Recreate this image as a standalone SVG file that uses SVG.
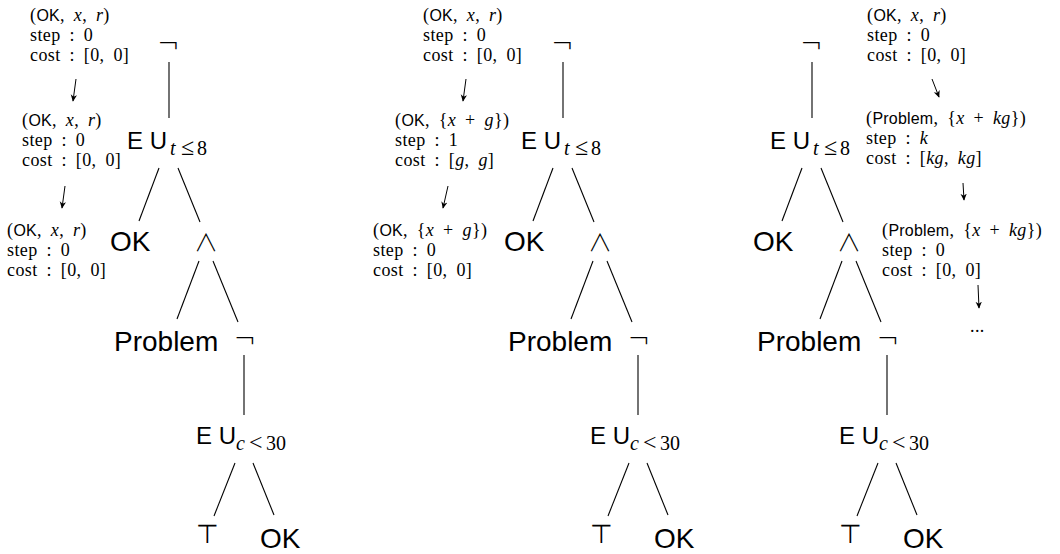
<svg xmlns="http://www.w3.org/2000/svg" width="1060" height="554" viewBox="0 0 1060 554">
<defs>
<marker id="ah" viewBox="0 0 10 10" refX="9" refY="5" markerWidth="7" markerHeight="7" markerUnits="userSpaceOnUse" orient="auto"><path d="M0,0.5 L10,5 L0,9.5 L3,5 Z" fill="#000"/></marker>
</defs>
<style>
text{fill:#000}
.sf{font-family:"Liberation Sans",Arial,sans-serif}
.big{font-size:28px}
.eu{font-size:24px}
.cm{font-family:"Liberation Serif","Times New Roman",serif;font-size:18px;word-spacing:4px;letter-spacing:0.4px}
.cm .sf{font-size:16px;letter-spacing:0.2px}
.sub{font-family:"Liberation Serif","Times New Roman",serif;font-size:20px}
.le{font-size:24px}
.it{font-style:italic}
.sym{font-family:"DejaVu Sans",sans-serif;font-weight:200}
.neg{font-size:27px}
.wedge{font-family:"Noto Sans CJK JP","DejaVu Sans",sans-serif;font-weight:300;font-size:24px}
.top{font-size:26px}
.edge{stroke:#000;stroke-width:1.1;fill:none}
.arr{stroke:#000;stroke-width:1;fill:none;marker-end:url(#ah)}
</style>

<!-- ===== Tree 1 ===== -->
<g id="tree1">
 <g id="t1-neg1"><text class="sym neg" x="168.5" y="53" text-anchor="middle">¬</text></g>
 <g id="t1-eu1"><text x="127" y="149"><tspan class="sf eu">E U</tspan><tspan class="sub it" x="170" y="155">t</tspan><tspan class="sub le" x="181">≤</tspan><tspan class="sub" x="197">8</tspan></text></g>
 <g id="t1-ok1"><text class="sf big" x="110" y="251">OK</text></g>
 <g id="t1-and"><text class="wedge" x="206" y="251" text-anchor="middle">∧</text></g>
 <g id="t1-problem"><text class="sf big" x="114" y="351">Problem</text></g>
 <g id="t1-neg2"><text class="sym neg" x="245" y="348" text-anchor="middle">¬</text></g>
 <g id="t1-eu2"><text x="196" y="444"><tspan class="sf eu">E U</tspan><tspan class="sub it" x="236" y="450">c</tspan><tspan class="sub le" x="249">&lt;</tspan><tspan class="sub" x="266">30</tspan></text></g>
 <g id="t1-top"><text class="sym top" x="207" y="543" text-anchor="middle">⊤</text></g>
 <g id="t1-ok2"><text class="sf big" x="260" y="548">OK</text></g>
</g>

<!-- ===== Tree 2 ===== -->
<g id="tree2" transform="translate(394,0)">
 <g id="t2-neg1"><text class="sym neg" x="168.5" y="53" text-anchor="middle">¬</text></g>
 <g id="t2-eu1"><text x="127" y="149"><tspan class="sf eu">E U</tspan><tspan class="sub it" x="170" y="155">t</tspan><tspan class="sub le" x="181">≤</tspan><tspan class="sub" x="197">8</tspan></text></g>
 <g id="t2-ok1"><text class="sf big" x="110" y="251">OK</text></g>
 <g id="t2-and"><text class="wedge" x="206" y="251" text-anchor="middle">∧</text></g>
 <g id="t2-problem"><text class="sf big" x="114" y="351">Problem</text></g>
 <g id="t2-neg2"><text class="sym neg" x="245" y="348" text-anchor="middle">¬</text></g>
 <g id="t2-eu2"><text x="196" y="444"><tspan class="sf eu">E U</tspan><tspan class="sub it" x="236" y="450">c</tspan><tspan class="sub le" x="249">&lt;</tspan><tspan class="sub" x="266">30</tspan></text></g>
 <g id="t2-top"><text class="sym top" x="207" y="543" text-anchor="middle">⊤</text></g>
 <g id="t2-ok2"><text class="sf big" x="260" y="548">OK</text></g>
</g>

<!-- ===== Tree 3 ===== -->
<g id="tree3" transform="translate(643,0)">
 <g id="t3-neg1"><text class="sym neg" x="168.5" y="53" text-anchor="middle">¬</text></g>
 <g id="t3-eu1"><text x="127" y="149"><tspan class="sf eu">E U</tspan><tspan class="sub it" x="170" y="155">t</tspan><tspan class="sub le" x="181">≤</tspan><tspan class="sub" x="197">8</tspan></text></g>
 <g id="t3-ok1"><text class="sf big" x="110" y="251">OK</text></g>
 <g id="t3-and"><text class="wedge" x="206" y="251" text-anchor="middle">∧</text></g>
 <g id="t3-problem"><text class="sf big" x="114" y="351">Problem</text></g>
 <g id="t3-neg2"><text class="sym neg" x="245" y="348" text-anchor="middle">¬</text></g>
 <g id="t3-eu2"><text x="196" y="444"><tspan class="sf eu">E U</tspan><tspan class="sub it" x="236" y="450">c</tspan><tspan class="sub le" x="249">&lt;</tspan><tspan class="sub" x="266">30</tspan></text></g>
 <g id="t3-top"><text class="sym top" x="207" y="543" text-anchor="middle">⊤</text></g>
 <g id="t3-ok2"><text class="sf big" x="260" y="548">OK</text></g>
</g>

<!-- ===== Annotations ===== -->
<g id="a1-1">
 <text class="cm" x="30" y="21">(<tspan class="sf">OK</tspan>, <tspan class="it">x</tspan>, <tspan class="it">r</tspan>)</text>
 <text class="cm" x="30" y="41">step : 0</text>
 <text class="cm" x="30" y="61">cost : [0, 0]</text>
</g>
<g id="a1-2">
 <text class="cm" x="22" y="126">(<tspan class="sf">OK</tspan>, <tspan class="it">x</tspan>, <tspan class="it">r</tspan>)</text>
 <text class="cm" x="22" y="146">step : 0</text>
 <text class="cm" x="22" y="166">cost : [0, 0]</text>
</g>
<g id="a1-3">
 <text class="cm" x="7" y="236">(<tspan class="sf">OK</tspan>, <tspan class="it">x</tspan>, <tspan class="it">r</tspan>)</text>
 <text class="cm" x="7" y="256">step : 0</text>
 <text class="cm" x="7" y="276">cost : [0, 0]</text>
</g>

<g id="a2-1">
 <text class="cm" x="423" y="21">(<tspan class="sf">OK</tspan>, <tspan class="it">x</tspan>, <tspan class="it">r</tspan>)</text>
 <text class="cm" x="423" y="41">step : 0</text>
 <text class="cm" x="423" y="61">cost : [0, 0]</text>
</g>
<g id="a2-2">
 <text class="cm" x="395" y="126">(<tspan class="sf">OK</tspan>, {<tspan class="it">x</tspan> + <tspan class="it">g</tspan>})</text>
 <text class="cm" x="395" y="146">step : 1</text>
 <text class="cm" x="395" y="166">cost : [<tspan class="it">g</tspan>, <tspan class="it">g</tspan>]</text>
</g>
<g id="a2-3">
 <text class="cm" x="373" y="236">(<tspan class="sf">OK</tspan>, {<tspan class="it">x</tspan> + <tspan class="it">g</tspan>})</text>
 <text class="cm" x="373" y="256">step : 0</text>
 <text class="cm" x="373" y="276">cost : [0, 0]</text>
</g>

<g id="a3-1">
 <text class="cm" x="867" y="21">(<tspan class="sf">OK</tspan>, <tspan class="it">x</tspan>, <tspan class="it">r</tspan>)</text>
 <text class="cm" x="867" y="41">step : 0</text>
 <text class="cm" x="867" y="61">cost : [0, 0]</text>
</g>
<g id="a3-2">
 <text class="cm" x="866" y="124">(<tspan class="sf">Problem</tspan>, {<tspan class="it">x</tspan> + <tspan class="it">kg</tspan>})</text>
 <text class="cm" x="866" y="144">step : <tspan class="it">k</tspan></text>
 <text class="cm" x="866" y="164">cost : [<tspan class="it">kg</tspan>, <tspan class="it">kg</tspan>]</text>
</g>
<g id="a3-3">
 <text class="cm" x="882" y="236">(<tspan class="sf">Problem</tspan>, {<tspan class="it">x</tspan> + <tspan class="it">kg</tspan>})</text>
 <text class="cm" x="882" y="256">step : 0</text>
 <text class="cm" x="882" y="276">cost : [0, 0]</text>
</g>
<g id="a3-4">
 <text class="cm" x="970" y="332">...</text>
</g>

<!-- ===== Connectors ===== -->
<g id="connectors">
 <g id="edges1">
  <line class="edge" x1="169" y1="62" x2="169" y2="118"/>
  <line class="edge" x1="159" y1="168" x2="139" y2="221"/>
  <line class="edge" x1="178" y1="168" x2="200" y2="222"/>
  <line class="edge" x1="199" y1="261" x2="177" y2="319"/>
  <line class="edge" x1="213" y1="261" x2="238" y2="322"/>
  <line class="edge" x1="244" y1="355" x2="244" y2="415"/>
  <line class="edge" x1="235" y1="463" x2="214" y2="516"/>
  <line class="edge" x1="253" y1="463" x2="274" y2="515"/>
 </g>
 <g id="edges2" transform="translate(394,0)">
  <line class="edge" x1="169" y1="62" x2="169" y2="118"/>
  <line class="edge" x1="159" y1="168" x2="139" y2="221"/>
  <line class="edge" x1="178" y1="168" x2="200" y2="222"/>
  <line class="edge" x1="199" y1="261" x2="177" y2="319"/>
  <line class="edge" x1="213" y1="261" x2="238" y2="322"/>
  <line class="edge" x1="244" y1="355" x2="244" y2="415"/>
  <line class="edge" x1="235" y1="463" x2="214" y2="516"/>
  <line class="edge" x1="253" y1="463" x2="274" y2="515"/>
 </g>
 <g id="edges3" transform="translate(643,0)">
  <line class="edge" x1="169" y1="62" x2="169" y2="118"/>
  <line class="edge" x1="159" y1="168" x2="139" y2="221"/>
  <line class="edge" x1="178" y1="168" x2="200" y2="222"/>
  <line class="edge" x1="199" y1="261" x2="177" y2="319"/>
  <line class="edge" x1="213" y1="261" x2="238" y2="322"/>
  <line class="edge" x1="244" y1="355" x2="244" y2="415"/>
  <line class="edge" x1="235" y1="463" x2="214" y2="516"/>
  <line class="edge" x1="253" y1="463" x2="274" y2="515"/>
 </g>
 <g id="arrows">
  <line class="arr" x1="76" y1="79" x2="73" y2="101"/>
  <line class="arr" x1="65" y1="186" x2="62" y2="208"/>
  <line class="arr" x1="466" y1="79" x2="463" y2="101"/>
  <line class="arr" x1="448" y1="186" x2="443" y2="208"/>
  <line class="arr" x1="932" y1="79" x2="939" y2="97"/>
  <line class="arr" x1="963" y1="183" x2="964" y2="200"/>
  <line class="arr" x1="978" y1="285" x2="979" y2="308"/>
 </g>
</g>
</svg>
